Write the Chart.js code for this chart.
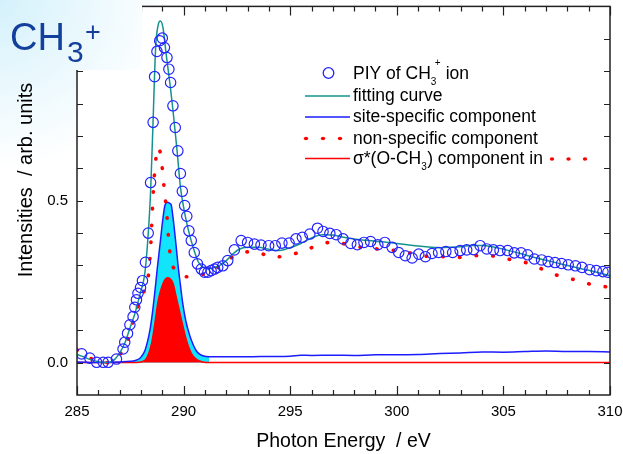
<!DOCTYPE html>
<html>
<head>
<meta charset="utf-8">
<script src="https://cdn.jsdelivr.net/npm/chart.js@4.4.1/dist/chart.umd.min.js"></script>
<style>
  html, body { margin: 0; padding: 0; }
  body { width: 623px; height: 454px; overflow: hidden;
         background: radial-gradient(circle at 0 0, #d4f1fb 0px, #ffffff 170px); }
  canvas { display: block; }
</style>
</head>
<body>
<canvas id="c" width="623" height="454"></canvas>
<script>
// ---------------- data ----------------
const xTickValues = [285, 290, 295, 300, 305, 310];
const xTickLabels = ['285', '290', '295', '300', '305', '310'];
const yTickValues = [0, 0.5];
const yTickLabels = ['0.0', '0.5'];

// PIY of CH3+ ion (open circles)
const piyE = [285.22,285.6,285.92,286.23,286.46,286.85,287.16,287.24,287.37,287.48,287.63,287.71,287.79,287.86,287.98,288.07,288.21,288.34,288.45,288.57,288.64,288.75,288.88,289.0,289.1,289.22,289.31,289.39,289.5,289.61,289.73,289.85,289.94,290.05,290.15,290.25,290.36,290.5,290.65,290.83,290.98,291.14,291.29,291.45,291.6,291.84,292.07,292.38,292.7,293.0,293.32,293.63,293.99,294.3,294.61,294.95,295.27,295.57,295.92,296.28,296.54,296.86,297.16,297.48,297.84,298.15,298.46,298.77,299.11,299.44,299.78,300.09,300.4,300.72,301.03,301.34,301.65,301.96,302.3,302.62,302.97,303.28,303.6,303.91,304.22,304.53,304.84,305.2,305.51,305.83,306.14,306.45,306.79,307.1,307.42,307.73,308.04,308.38,308.69,309.05,309.36,309.67,309.9];
const piyI = [0.027,0.014,0.001,0.001,0.001,0.011,0.042,0.063,0.09,0.117,0.142,0.171,0.194,0.214,0.232,0.253,0.31,0.40,0.556,0.742,0.883,0.961,0.994,1.002,0.973,0.942,0.906,0.865,0.793,0.726,0.654,0.584,0.529,0.485,0.452,0.407,0.377,0.34,0.305,0.289,0.279,0.279,0.284,0.289,0.294,0.299,0.315,0.348,0.377,0.371,0.366,0.363,0.361,0.361,0.369,0.369,0.382,0.387,0.397,0.415,0.405,0.399,0.395,0.382,0.368,0.364,0.371,0.374,0.364,0.371,0.356,0.340,0.330,0.323,0.335,0.327,0.337,0.340,0.343,0.340,0.346,0.348,0.349,0.361,0.351,0.348,0.346,0.346,0.339,0.339,0.333,0.320,0.317,0.312,0.309,0.306,0.302,0.299,0.294,0.287,0.284,0.281,0.279];

// fitting curve
const fitE = [285.0,285.3,285.6,286.0,286.4,286.7,287.0,287.24,287.5,287.71,287.95,288.18,288.3,288.4,288.46,288.57,288.69,288.8,288.91,289.03,289.19,289.38,289.5,289.69,289.85,290.0,290.15,290.3,290.5,290.7,290.9,291.1,291.4,291.7,292.0,292.3,292.6,293.0,293.5,294.0,294.5,295.0,295.5,296.0,296.5,297.0,297.5,298.0,298.5,299.0,299.5,300.0,300.5,301.0,301.5,302.0,302.5,303.0,303.5,304.0,304.5,305.0,305.5,306.0,306.5,307.0,307.5,308.0,308.5,309.0,309.5,310.0];
const fitI = [0.025,0.018,0.01,0.003,0.0,0.006,0.03,0.06,0.11,0.15,0.21,0.275,0.36,0.46,0.54,0.75,0.975,1.04,1.055,1.035,0.948,0.85,0.78,0.657,0.543,0.48,0.43,0.39,0.345,0.31,0.295,0.29,0.293,0.3,0.315,0.335,0.35,0.356,0.356,0.35,0.346,0.355,0.368,0.385,0.395,0.394,0.387,0.382,0.378,0.375,0.372,0.368,0.364,0.36,0.357,0.355,0.356,0.358,0.362,0.362,0.358,0.35,0.342,0.333,0.324,0.316,0.308,0.3,0.292,0.285,0.277,0.268];

// site-specific component
const siteE = [285.0,286.0,287.0,287.5,287.8,288.0,288.2,288.42,288.55,288.66,288.78,288.9,289.02,289.13,289.25,289.35,289.42,289.5,289.57,289.65,289.73,289.85,289.96,290.1,290.28,290.45,290.6,290.75,290.9,291.2,292.0,293.0,294.0,295.0,295.5,296.0,297.0,298.0,299.0,300.0,301.0,302.0,303.0,304.0,305.0,306.0,307.0,308.0,309.0,310.0];
const siteI = [0.002,0.0,0.002,0.004,0.008,0.017,0.04,0.10,0.16,0.224,0.30,0.368,0.44,0.487,0.495,0.492,0.487,0.45,0.41,0.36,0.307,0.24,0.183,0.13,0.085,0.055,0.036,0.026,0.021,0.018,0.018,0.018,0.019,0.02,0.023,0.022,0.023,0.022,0.024,0.024,0.025,0.028,0.03,0.033,0.032,0.034,0.036,0.034,0.034,0.033];
const siteFillMaxE = 291.2;

// non-specific component
const nonE = [285.0,285.5,286.0,286.5,286.8,287.0,287.25,287.5,287.75,288.0,288.2,288.35,288.45,288.5,288.55,288.6,288.7,288.8,288.9,289.0,289.1,289.2,289.3,289.4,289.6,289.9,290.2,290.6,291.0,291.4,291.8,292.2,292.6,293.0,293.4,293.8,294.1,294.5,294.9,295.3,295.7,296.1,296.5,296.9,297.3,297.7,298.1,298.5,298.9,299.3,299.7,300.1,300.5,300.9,301.2,301.6,302.1,302.5,302.9,303.2,303.6,304.0,304.4,304.8,305.2,305.6,306.0,306.4,306.8,307.2,307.6,308.0,308.4,308.8,309.2,309.6,310.0];
const nonI = [0.04,0.018,0.004,0.0,0.01,0.025,0.045,0.097,0.155,0.2,0.23,0.27,0.35,0.42,0.49,0.55,0.63,0.665,0.65,0.6,0.53,0.47,0.38,0.32,0.286,0.27,0.265,0.268,0.275,0.287,0.302,0.322,0.337,0.342,0.342,0.333,0.325,0.327,0.331,0.338,0.346,0.358,0.368,0.371,0.37,0.364,0.358,0.355,0.352,0.35,0.348,0.344,0.34,0.334,0.33,0.328,0.327,0.326,0.325,0.327,0.33,0.331,0.33,0.326,0.32,0.315,0.31,0.3,0.289,0.278,0.268,0.261,0.255,0.247,0.24,0.236,0.233];

// sigma*(O-CH3) component
const sigE = [285.0,287.5,288.0,288.26,288.5,288.65,288.8,289.04,289.25,289.5,289.65,289.9,290.13,290.36,290.6,290.9,291.2,292.0,310.0];
const sigI = [0.0,0.0,0.002,0.013,0.06,0.12,0.188,0.245,0.262,0.245,0.204,0.132,0.07,0.029,0.01,0.002,0.0,0.0,0.0];

const pts = (xs, ys) => xs.map((x, i) => ({ x: x, y: ys[i] }));

// ---------------- colours ----------------
const C_CIRCLE = '#2424ff';
const C_FIT = '#14928e';
const C_SITE = '#1c1cff';
const C_CYAN = '#12e4fb';
const C_RED = '#ff0000';
const C_TITLE = '#13409c';
const FONT = '"Liberation Sans", Arial, sans-serif';

const decor = {
  id: 'decor',
  beforeDraw(chart) {
    const ctx = chart.ctx, a = chart.chartArea;
    ctx.save();
    ctx.fillStyle = '#ffffff';
    ctx.fillRect(a.left, a.top, a.right - a.left, a.bottom - a.top);
    ctx.restore();
  },
  afterDraw(chart) {
    const ctx = chart.ctx, a = chart.chartArea;
    const xs = chart.scales.x, ys = chart.scales.y;
    ctx.save();
    // frame
    ctx.strokeStyle = '#222';
    ctx.lineWidth = 1.5;
    ctx.strokeRect(a.left, a.top, a.right - a.left, a.bottom - a.top);
    // inner ticks
    ctx.lineWidth = 1.2;
    ctx.beginPath();
    for (let v = xs.min; v <= xs.max; v += 1) {
      const px = Math.round(xs.getPixelForValue(v)) + 0.5;
      const L = (Math.round(v) % 5 === 0) ? 9 : 5;
      ctx.moveTo(px, a.bottom); ctx.lineTo(px, a.bottom - L);
      ctx.moveTo(px, a.top); ctx.lineTo(px, a.top + L);
    }
    for (let i = 0; i <= 10; i++) {
      const py = Math.round(ys.getPixelForValue(i / 10)) + 0.5;
      ctx.moveTo(a.left, py); ctx.lineTo(a.left + 6, py);
      ctx.moveTo(a.right, py); ctx.lineTo(a.right - 6, py);
    }
    ctx.stroke();

    // axis titles
    ctx.fillStyle = '#000';
    ctx.font = '19.5px ' + FONT;
    ctx.textAlign = 'center';
    ctx.textBaseline = 'alphabetic';
    ctx.fillText('Photon Energy  / eV', (a.left + a.right) / 2, 447);
    ctx.save();
    ctx.translate(32, 180);
    ctx.rotate(-Math.PI / 2);
    ctx.font = '20px ' + FONT;
    ctx.fillText('Intensities  / arb. units', 0, 0);
    ctx.restore();

    // legend
    ctx.textAlign = 'left';
    const LF = '17.5px ' + FONT, SF = '10px ' + FONT;
    const tx = 353;
    // row 0
    ctx.strokeStyle = C_CIRCLE; ctx.lineWidth = 1.3;
    ctx.beginPath(); ctx.arc(328.5, 73, 5.3, 0, Math.PI * 2); ctx.stroke();
    ctx.font = LF; ctx.fillText('PIY of CH', tx, 78.5);
    let w = ctx.measureText('PIY of CH').width;
    ctx.font = SF; ctx.fillText('3', tx + w, 85);
    ctx.fillText('+', tx + w + 4, 66);
    ctx.font = LF; ctx.fillText(' ion', tx + w + 10, 78.5);
    // row 1
    ctx.lineWidth = 1.5;
    ctx.strokeStyle = C_FIT; ctx.beginPath(); ctx.moveTo(305, 96); ctx.lineTo(350, 96); ctx.stroke();
    ctx.fillText('fitting curve', tx, 101);
    // row 2
    ctx.strokeStyle = C_SITE; ctx.beginPath(); ctx.moveTo(305, 117); ctx.lineTo(350, 117); ctx.stroke();
    ctx.fillText('site-specific component', tx, 122);
    // row 3
    ctx.fillStyle = C_RED;
    [306, 323, 340].forEach(x => { ctx.beginPath(); ctx.ellipse(x, 138.5, 2.2, 1.8, 0, 0, Math.PI * 2); ctx.fill(); });
    ctx.fillStyle = '#000';
    ctx.fillText('non-specific component', tx, 143.5);
    // row 4
    ctx.strokeStyle = C_RED; ctx.beginPath(); ctx.moveTo(305, 158.5); ctx.lineTo(350, 158.5); ctx.stroke();
    ctx.fillText('\u03c3*(O-CH', tx, 164);
    w = ctx.measureText('\u03c3*(O-CH').width;
    ctx.font = SF; ctx.fillText('3', tx + w, 170);
    ctx.font = LF; ctx.fillText(') component in', tx + w + 6, 164);
    ctx.fillStyle = C_RED;
    [552, 568.5, 585].forEach(x => { ctx.beginPath(); ctx.ellipse(x, 159, 2.2, 1.8, 0, 0, Math.PI * 2); ctx.fill(); });

    // corner label box
    const g = ctx.createRadialGradient(0, 0, 0, 0, 0, 170);
    g.addColorStop(0, '#d4f1fb'); g.addColorStop(1, '#ffffff');
    ctx.fillStyle = g;
    ctx.fillRect(0, 0, 142, 70);
    ctx.fillStyle = C_TITLE;
    ctx.font = '38px ' + FONT;
    ctx.fillText('CH', 10, 50);
    const wc = ctx.measureText('CH').width;
    ctx.font = '30px ' + FONT;
    ctx.fillText('3', 10 + wc + 2, 62);
    ctx.font = '27px ' + FONT;
    ctx.fillText('+', 10 + wc + 20, 41);
    ctx.restore();
  }
};

new Chart(document.getElementById('c'), {
  type: 'line',
  data: {
    datasets: [
      { label: 'PIY of CH3+ ion', data: pts(piyE, piyI), showLine: false,
        pointRadius: 5.2, pointBorderWidth: 1.2, pointBorderColor: C_CIRCLE,
        pointBackgroundColor: 'rgba(0,0,0,0)', borderColor: C_CIRCLE },
      { label: 'fitting curve', data: pts(fitE, fitI), borderColor: C_FIT, borderWidth: 1.5,
        pointRadius: 0, fill: false, cubicInterpolationMode: 'monotone' },
      { label: 'non-specific component', data: pts(nonE, nonI), borderColor: C_RED, borderWidth: 3.6,
        borderDash: [0.5, 16.2], borderCapStyle: 'round', pointRadius: 0, fill: false,
        cubicInterpolationMode: 'monotone' },
      { label: 'site-specific component', data: pts(siteE, siteI), borderColor: C_SITE, borderWidth: 1.5,
        pointRadius: 0, fill: false, cubicInterpolationMode: 'monotone' },
      { label: 'sigma component', data: pts(sigE, sigI), borderColor: C_RED, borderWidth: 1.5,
        backgroundColor: C_RED, pointRadius: 0, fill: 'origin', cubicInterpolationMode: 'monotone' },
      { label: 'site fill', data: pts(siteE, siteI).filter(p => p.x <= siteFillMaxE), borderWidth: 0,
        borderColor: 'rgba(0,0,0,0)', backgroundColor: C_CYAN, pointRadius: 0, fill: 'origin',
        cubicInterpolationMode: 'monotone' }
    ]
  },
  options: {
    responsive: false,
    animation: false,
    events: [],
    devicePixelRatio: 1,
    layout: { padding: { top: 5, right: 13, left: 0, bottom: 0 } },
    plugins: { legend: { display: false }, tooltip: { enabled: false } },
    scales: {
      x: {
        type: 'linear', min: 285, max: 310,
        grid: { display: false, drawTicks: false }, border: { display: false },
        afterFit: s => { s.height = 59; s.paddingLeft = 0; s.paddingRight = 0; },
        ticks: { stepSize: 5, includeBounds: false, padding: 8, color: '#000', maxRotation: 0,
          font: { family: FONT, size: 15 },
          callback: v => { const i = xTickValues.indexOf(Math.round(v)); return i >= 0 ? xTickLabels[i] : ''; } }
      },
      y: {
        type: 'linear', min: -0.1, max: 1.1,
        grid: { display: false, drawTicks: false }, border: { display: false },
        afterFit: s => { s.width = 77; s.paddingTop = 0; s.paddingBottom = 0; },
        ticks: { stepSize: 0.5, includeBounds: false, padding: 9, color: '#000',
          font: { family: FONT, size: 15 },
          callback: v => { const i = yTickValues.findIndex(t => Math.abs(t - v) < 1e-6); return i >= 0 ? yTickLabels[i] : ''; } }
      }
    }
  },
  plugins: [decor]
});
</script>
</body>
</html>
